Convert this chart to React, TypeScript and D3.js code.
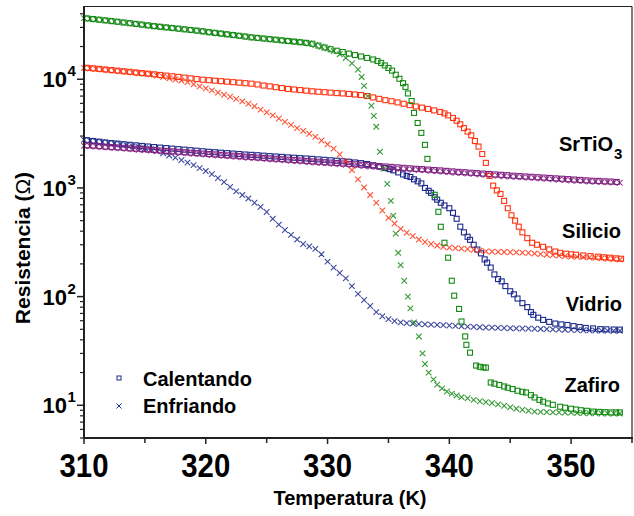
import React from 'react';
import * as d3 from 'd3';

// [Temperatura (K), Resistencia (Ω)]
const zafiroEnfriando: [number, number][] = [
  [310, 36500], [310.5, 36000], [311, 35500], [311.5, 35000], [312, 34500], [312.5, 34000], [313, 33500], [313.5, 33000],
  [314, 32500], [314.5, 32000], [315, 31500], [315.5, 31000], [316, 30600], [316.5, 30200], [317, 29800], [317.5, 29400],
  [318, 29000], [318.5, 28600], [319, 28200], [319.5, 27800], [320, 27300], [320.5, 26900], [321, 26500], [321.5, 26100],
  [322, 25700], [322.5, 25300], [323, 24900], [323.5, 24500], [324, 24100], [324.5, 23800], [325, 23500], [325.5, 23200],
  [326, 22900], [326.5, 22600], [327, 22300], [327.5, 22100], [328, 21800], [328.5, 21300], [329, 20600], [329.5, 19900],
  [330, 19200], [330.5, 18200], [331, 17000], [331.5, 15700], [332, 14000], [332.5, 12300], [332.8, 10500], [333, 8700],
  [333.3, 7000], [333.6, 5700], [333.8, 4600], [334, 3650], [334.3, 2150], [334.6, 1500], [334.9, 1090], [335.2, 760],
  [335.4, 555], [335.6, 380], [335.8, 253], [336, 195], [336.3, 140], [336.6, 100], [336.8, 78], [337.1, 58],
  [337.5, 43], [337.8, 30], [338, 24], [338.3, 20], [338.7, 17.3], [339, 15.5], [339.4, 14.3], [339.8, 13.4],
  [340.2, 12.8], [340.6, 12.3], [341, 11.9], [341.5, 11.6], [342, 11.2], [342.5, 10.9], [343, 10.7], [343.5, 10.5],
  [344, 10.2], [344.5, 9.9], [345, 9.6], [345.5, 9.3], [346, 9.1], [346.5, 8.9], [347, 8.75], [347.5, 8.7],
  [348, 8.65], [348.5, 8.6], [349, 8.6], [349.5, 8.55], [350, 8.55], [350.5, 8.5], [351, 8.5], [351.5, 8.45],
  [352, 8.45], [352.5, 8.4], [353, 8.4], [353.5, 8.4], [354, 8.4],
];

const zafiroCalentando: [number, number][] = [
  [310.25, 36300], [310.75, 35800], [311.25, 35300], [311.75, 34800], [312.25, 34300], [312.75, 33800], [313.25, 33300],
  [313.75, 32800], [314.25, 32300], [314.75, 31800], [315.25, 31300], [315.75, 30800], [316.25, 30400], [316.75, 30000],
  [317.25, 29600], [317.75, 29200], [318.25, 28800], [318.75, 28400], [319.25, 28000], [319.75, 27600], [320.25, 27100],
  [320.75, 26700], [321.25, 26300], [321.75, 25900], [322.25, 25500], [322.75, 25100], [323.25, 24700], [323.75, 24300],
  [324.25, 24000], [324.75, 23700], [325.25, 23400], [325.75, 23100], [326.25, 22800], [326.75, 22500], [327.25, 22200],
  [327.75, 21900], [328.25, 21600], [328.75, 21200], [329.25, 20400], [329.75, 19600], [330.25, 18900], [330.75, 18300],
  [331.25, 17800], [331.75, 17200], [332.25, 16700], [332.75, 16200], [333.25, 15700], [333.75, 15200], [334.1, 14700],
  [334.4, 14100], [334.7, 13400], [335, 12700], [335.3, 12000], [335.6, 11000], [335.9, 10100], [336.2, 9200],
  [336.4, 8500], [336.6, 7400], [336.9, 6300], [337.1, 4900], [337.4, 3960], [337.7, 3210], [338, 2490], [338.2, 1850],
  [338.8, 865], [339.1, 603], [339.3, 439], [339.6, 313], [339.9, 228], [340.2, 140], [340.4, 102], [340.8, 77],
  [341, 59], [341.3, 43], [341.4, 36], [341.7, 30.5], [342.2, 23.2], [342.5, 22.6], [342.8, 22.3], [343, 22.2],
  [343.4, 16.2], [343.7, 15.8], [344.1, 15.4], [344.5, 14.9], [344.8, 14.5], [345.2, 14.1], [345.6, 13.6], [346, 13.3],
  [346.3, 13.1], [346.7, 12.4], [347, 11.8], [347.4, 11.2], [347.7, 10.8], [348.1, 10.4], [348.5, 10.1], [349.1, 9.7],
  [349.5, 9.5], [350, 9.3], [350.4, 9.14], [350.8, 9.0], [351.3, 8.9], [351.8, 8.75], [352.3, 8.7], [352.8, 8.65],
  [353.3, 8.6], [353.7, 8.6], [354, 8.6],
];

const silicioEnfriando: [number, number][] = [
  [310, 12700], [310.5, 12550], [311, 12400], [311.5, 12250], [312, 12100], [312.5, 11950], [313, 11800], [313.5, 11650],
  [314, 11500], [314.5, 11350], [315, 11250], [315.5, 11100], [316, 10800], [316.5, 10500], [317, 10200], [317.5, 9950],
  [318, 9700], [318.5, 9400], [319, 9000], [319.5, 8600], [320, 8250], [320.5, 7900], [321, 7550], [321.5, 7200],
  [322, 6900], [322.5, 6600], [323, 6250], [323.5, 5950], [324, 5650], [324.5, 5250], [325, 4950], [325.5, 4650],
  [326, 4350], [326.5, 4050], [327, 3800], [327.5, 3550], [328, 3350], [328.5, 3150], [329, 2950], [329.5, 2730],
  [330, 2520], [330.5, 2300], [331, 2030], [331.5, 1760], [332, 1460], [332.5, 1200], [333, 1010], [333.5, 860],
  [334, 730], [334.5, 620], [335, 530], [335.5, 470], [336, 420], [336.5, 387], [337, 360], [337.5, 335],
  [338, 318], [338.5, 305], [339, 295], [339.5, 287], [340, 282], [340.5, 279], [341, 276], [341.5, 274],
  [342, 270], [342.5, 265], [343, 261], [343.5, 259], [344, 258], [344.5, 257], [345, 256], [345.5, 255],
  [346, 254], [346.5, 252], [347, 249], [347.5, 246], [348, 243], [348.5, 241], [349, 238], [349.5, 236],
  [350, 234], [350.5, 232], [351, 231], [351.5, 229], [352, 227], [352.5, 225], [353, 223], [353.5, 221], [354, 219],
];

const silicioCalentando: [number, number][] = [
  [310.25, 12750], [310.75, 12600], [311.25, 12450], [311.75, 12300], [312.25, 12150], [312.75, 12000], [313.25, 11850],
  [313.75, 11700], [314.25, 11550], [314.75, 11400], [315.25, 11250], [315.75, 11100], [316.25, 10950], [316.75, 10800],
  [317.25, 10650], [317.75, 10500], [318.25, 10350], [318.75, 10200], [319.25, 10050], [319.75, 9900], [320.25, 9800],
  [320.75, 9700], [321.25, 9600], [321.75, 9500], [322.25, 9400], [322.75, 9300], [323.25, 9200], [323.75, 9100],
  [324.25, 8950], [324.75, 8750], [325.25, 8600], [325.75, 8450], [326.25, 8300], [326.75, 8150], [327.25, 8050],
  [327.75, 7950], [328.25, 7850], [328.75, 7750], [329.25, 7670], [329.75, 7600], [330.25, 7530], [330.75, 7460],
  [331.25, 7400], [331.75, 7320], [332.25, 7240], [332.75, 7150], [333.25, 7000], [333.75, 6800], [334.25, 6600],
  [334.75, 6420], [335.25, 6280], [335.75, 6120], [336.25, 5950], [336.75, 5780], [337.25, 5620], [337.75, 5480],
  [338.25, 5330], [338.75, 5170], [339.25, 5000], [339.6, 4850], [339.9, 4650], [340.3, 4400], [340.6, 4150],
  [340.9, 3850], [341.2, 3550], [341.5, 3300], [341.8, 3050], [342.1, 2700], [342.4, 2400], [342.7, 2050], [343, 1700],
  [343.3, 1290], [343.6, 1050], [343.9, 950], [344.2, 880], [344.5, 760], [344.8, 650], [345.1, 560], [345.4, 500],
  [345.7, 440], [346, 390], [346.4, 345], [346.8, 313], [347.2, 300], [347.7, 287], [348.2, 272], [348.7, 260],
  [349.1, 253], [349.6, 248], [350, 245], [350.4, 243], [351, 239], [351.6, 236], [352.2, 233], [352.7, 230],
  [353.2, 228], [353.7, 225], [354.1, 223],
];

const vidrioEnfriando: [number, number][] = [
  [310, 2770], [310.5, 2720], [311, 2680], [311.5, 2640], [312, 2600], [312.5, 2560], [313, 2510], [313.5, 2460],
  [314, 2410], [314.5, 2370], [315, 2320], [315.5, 2270], [316, 2180], [316.5, 2080], [317, 1990], [317.5, 1900],
  [318, 1800], [318.5, 1710], [319, 1620], [319.5, 1520], [320, 1430], [320.5, 1340], [321, 1230], [321.5, 1130],
  [322, 1020], [322.5, 930], [323, 860], [323.5, 800], [324, 730], [324.5, 670], [325, 600], [325.5, 520],
  [326, 460], [326.5, 410], [327, 370], [327.5, 335], [328, 305], [328.5, 290], [329, 275], [329.5, 245],
  [330, 210], [330.5, 185], [331, 165], [331.5, 147], [332, 125], [332.5, 106], [333, 93], [333.5, 82],
  [334, 72], [334.5, 66], [335, 62], [335.5, 59.5], [336, 58], [336.5, 57], [337, 56.5], [337.5, 56],
  [338, 55.5], [338.5, 55.2], [339, 55], [339.5, 54.6], [340, 54.2], [340.5, 53.8], [341, 53.3], [341.5, 52.9],
  [342, 52.6], [342.5, 52.3], [343, 52], [343.5, 51.8], [344, 51.6], [344.5, 51.4], [345, 51.2], [345.5, 51],
  [346, 50.9], [346.5, 50.8], [347, 50.6], [347.5, 50.4], [348, 50.2], [348.5, 50], [349, 49.8], [349.5, 49.6],
  [350, 49.4], [350.5, 49.2], [351, 49], [351.5, 48.9], [352, 48.7], [352.5, 48.6], [353, 48.6], [353.5, 48.5], [354, 48.5],
];

const vidrioCalentando: [number, number][] = [
  [310.25, 2750], [310.75, 2700], [311.25, 2660], [311.75, 2620], [312.25, 2585], [312.75, 2555], [313.25, 2525],
  [313.75, 2495], [314.25, 2465], [314.75, 2435], [315.25, 2405], [315.75, 2375], [316.25, 2350], [316.75, 2325],
  [317.25, 2300], [317.75, 2275], [318.25, 2250], [318.75, 2225], [319.25, 2200], [319.75, 2175], [320.25, 2150],
  [320.75, 2130], [321.25, 2110], [321.75, 2090], [322.25, 2070], [322.75, 2050], [323.25, 2030], [323.75, 2015],
  [324.25, 2000], [324.75, 1980], [325.25, 1960], [325.75, 1945], [326.25, 1930], [326.75, 1910], [327.25, 1895],
  [327.75, 1880], [328.25, 1865], [328.75, 1850], [329.25, 1830], [329.75, 1815], [330.25, 1795], [330.75, 1780],
  [331.25, 1760], [331.75, 1740], [332.25, 1715], [332.75, 1690], [333.25, 1660], [333.75, 1615], [334.25, 1570],
  [334.75, 1525], [335.1, 1490], [335.4, 1450], [335.8, 1390], [336.2, 1330], [336.5, 1290], [336.8, 1260],
  [337.1, 1200], [337.4, 1150], [337.7, 1100], [338, 1000], [338.3, 940], [338.5, 900], [338.8, 820], [339, 780],
  [339.3, 730], [339.6, 690], [340, 650], [340.3, 590], [340.6, 520], [340.9, 440], [341.2, 390], [341.5, 355],
  [341.7, 333], [342, 300], [342.3, 271], [342.6, 250], [342.9, 220], [343.1, 205], [343.4, 185], [343.7, 160],
  [344, 145], [344.3, 138], [344.6, 125], [345, 112], [345.3, 105], [345.6, 96], [346, 87], [346.4, 80],
  [346.7, 72], [346.9, 68], [347.3, 64], [347.7, 61], [348.2, 58.5], [348.7, 56.5], [349.2, 55.5], [349.7, 54.8],
  [350.2, 53.5], [350.7, 52.5], [351.2, 51.5], [351.8, 51], [352.4, 50.2], [352.9, 50], [353.5, 49.8], [354, 49.7],
];

const srtioEnfriando: [number, number][] = [
  [310, 2440], [310.5, 2420], [311, 2400], [311.5, 2375], [312, 2350], [312.5, 2330], [313, 2310], [313.5, 2290],
  [314, 2265], [314.5, 2245], [315, 2225], [315.5, 2205], [316, 2185], [316.5, 2160], [317, 2140], [317.5, 2120],
  [318, 2100], [318.5, 2085], [319, 2065], [319.5, 2045], [320, 2025], [320.5, 2005], [321, 1990], [321.5, 1970],
  [322, 1950], [322.5, 1935], [323, 1915], [323.5, 1895], [324, 1880], [324.5, 1860], [325, 1845], [325.5, 1825],
  [326, 1810], [326.5, 1795], [327, 1775], [327.5, 1760], [328, 1745], [328.5, 1725], [329, 1710], [329.5, 1695],
  [330, 1680], [330.5, 1665], [331, 1650], [331.5, 1635], [332, 1620], [332.5, 1605], [333, 1590], [333.5, 1575],
  [334, 1560], [334.5, 1545], [335, 1530], [335.5, 1515], [336, 1500], [336.5, 1490], [337, 1475], [337.5, 1460],
  [338, 1450], [338.5, 1435], [339, 1420], [339.5, 1410], [340, 1395], [340.5, 1380], [341, 1370], [341.5, 1355],
  [342, 1345], [342.5, 1330], [343, 1320], [343.5, 1305], [344, 1290], [344.5, 1280], [345, 1270], [345.5, 1260],
  [346, 1250], [346.5, 1240], [347, 1230], [347.5, 1220], [348, 1210], [348.5, 1200], [349, 1190], [349.5, 1180],
  [350, 1170], [350.5, 1160], [351, 1155], [351.5, 1145], [352, 1140], [352.5, 1130], [353, 1125], [353.5, 1120], [354, 1115],
];

const srtioCalentando: [number, number][] = [
  [310.25, 2470], [310.75, 2450], [311.25, 2425], [311.75, 2400], [312.25, 2380], [312.75, 2360], [313.25, 2340],
  [313.75, 2315], [314.25, 2295], [314.75, 2275], [315.25, 2255], [315.75, 2235], [316.25, 2210], [316.75, 2190],
  [317.25, 2170], [317.75, 2150], [318.25, 2130], [318.75, 2110], [319.25, 2090], [319.75, 2070], [320.25, 2050],
  [320.75, 2035], [321.25, 2015], [321.75, 1995], [322.25, 1980], [322.75, 1960], [323.25, 1940], [323.75, 1925],
  [324.25, 1905], [324.75, 1890], [325.25, 1870], [325.75, 1855], [326.25, 1840], [326.75, 1820], [327.25, 1805],
  [327.75, 1790], [328.25, 1770], [328.75, 1755], [329.25, 1740], [329.75, 1725], [330.25, 1710], [330.75, 1695],
  [331.25, 1680], [331.75, 1665], [332.25, 1650], [332.75, 1635], [333.25, 1620], [333.75, 1605], [334.25, 1590],
  [334.75, 1575], [335.25, 1560], [335.75, 1545], [336.25, 1530], [336.75, 1515], [337.25, 1500], [337.75, 1490],
  [338.25, 1475], [338.75, 1460], [339.25, 1450], [339.75, 1435], [340.25, 1420], [340.75, 1405], [341.25, 1395],
  [341.75, 1380], [342.25, 1370], [342.75, 1355], [343.25, 1345], [343.75, 1330], [344.25, 1320], [344.75, 1310],
  [345.25, 1295], [345.75, 1285], [346.25, 1275], [346.75, 1265], [347.25, 1255], [347.75, 1245], [348.25, 1235],
  [348.75, 1225], [349.25, 1215], [349.75, 1205], [350.25, 1195], [350.75, 1185], [351.25, 1175], [351.75, 1165],
  [352.25, 1160], [352.75, 1150], [353.25, 1145], [353.75, 1135],
];

const xMajor = [310, 320, 330, 340, 350];
const xMinor = [315, 325, 335, 345, 355];
const yMajorExp = [1, 2, 3, 4];

const FONT = '"Liberation Sans", Arial, sans-serif';
const C = { verde: '#148a14', rojo: '#ff3311', azul: '#1c2a8c', morado: '#802080' };

const x = d3.scaleLinear().domain([310, 355]).range([84, 632]);
const y = d3.scaleLog().domain([5, 46700]).range([438, 6.5]);

const Squares = ({ data, color }: { data: [number, number][]; color: string }) => (
  <g fill="none" stroke={color} strokeWidth={1.1}>
    {data.map(([t, r], i) => (
      <rect key={i} x={x(t) - 2.5} y={y(r) - 2.5} width={5} height={5} />
    ))}
  </g>
);

const Crosses = ({ data, color }: { data: [number, number][]; color: string }) => (
  <g fill="none" stroke={color} strokeWidth={1.1} strokeOpacity={0.85}>
    {data.map(([t, r], i) => {
      const cx = x(t), cy = y(r);
      return <path key={i} d={`M${cx - 2.8},${cy - 2.8}L${cx + 2.8},${cy + 2.8}M${cx - 2.8},${cy + 2.8}L${cx + 2.8},${cy - 2.8}`} />;
    })}
  </g>
);

export default function App() {
  const yMinor: number[] = [];
  for (let e = 0; e <= 4; e++) {
    for (let m = 2; m <= 9; m++) {
      const v = m * Math.pow(10, e);
      if (v >= 5 && v <= 46700) yMinor.push(v);
    }
  }
  return (
    <svg width={634} height={516} style={{ position: 'absolute', left: 0, top: 0, background: '#fff' }} fontFamily={FONT}>
      <rect width={634} height={516} fill="#fff" />

      <Crosses data={vidrioEnfriando} color={C.azul} />
      <Squares data={vidrioCalentando} color={C.azul} />
      <Crosses data={srtioEnfriando} color={C.morado} />
      <Squares data={srtioCalentando} color={C.morado} />
      <Crosses data={silicioEnfriando} color={C.rojo} />
      <Squares data={silicioCalentando} color={C.rojo} />
      <Crosses data={zafiroEnfriando} color={C.verde} />
      <Squares data={zafiroCalentando} color={C.verde} />

      {/* marco */}
      <line x1={84} x2={632} y1={6.5} y2={6.5} stroke="#222" strokeWidth={1.2} />
      <line x1={632} x2={632} y1={6.5} y2={438} stroke="#222" strokeWidth={1.2} />
      <line x1={84} x2={84} y1={6} y2={439} stroke="#222" strokeWidth={2} />
      <line x1={83} x2={633} y1={438} y2={438} stroke="#222" strokeWidth={2} />

      {/* eje x */}
      {xMajor.map(t => (
        <g key={t}>
          <line x1={x(t)} x2={x(t)} y1={438} y2={444} stroke="#222" strokeWidth={1.5} />
          <text x={x(t)} y={477} textAnchor="middle" fontSize={33} fontWeight="bold" textLength={49} lengthAdjust="spacingAndGlyphs">{t}</text>
        </g>
      ))}
      {xMinor.map(t => (
        <line key={t} x1={x(t)} x2={x(t)} y1={438} y2={443} stroke="#222" strokeWidth={1.5} />
      ))}
      <text x={350} y={505} textAnchor="middle" fontSize={20} fontWeight="bold">Temperatura (K)</text>

      {/* eje y */}
      {yMajorExp.map(e => {
        const py = y(Math.pow(10, e));
        return (
          <g key={e}>
            <line x1={77} x2={84} y1={py} y2={py} stroke="#222" strokeWidth={1.5} />
            <text x={67} y={py + 8} textAnchor="end" fontSize={22} fontWeight="bold">10</text>
            <text x={67.5} y={py - 3} fontSize={15} fontWeight="bold">{e}</text>
          </g>
        );
      })}
      {yMinor.map(v => (
        <line key={v} x1={80} x2={84} y1={y(v)} y2={y(v)} stroke="#222" strokeWidth={1.2} />
      ))}
      <text transform="translate(30,248) rotate(-90)" textAnchor="middle" fontSize={21} fontWeight="bold">
        Resistencia (<tspan fontWeight="normal">Ω</tspan>)
      </text>

      {/* etiquetas de muestras */}
      <text x={613} y={151} textAnchor="end" fontSize={20} fontWeight="bold">SrTiO</text>
      <text x={614} y={159} fontSize={15} fontWeight="bold">3</text>
      <text x={621} y={238} textAnchor="end" fontSize={20} fontWeight="bold">Silicio</text>
      <text x={622} y={311} textAnchor="end" fontSize={20} fontWeight="bold">Vidrio</text>
      <text x={620} y={392} textAnchor="end" fontSize={20} fontWeight="bold">Zafiro</text>

      {/* leyenda */}
      <rect x={117} y={376} width={4} height={4} fill="none" stroke={C.azul} strokeWidth={1} />
      <path d="M116.5,403.5L121.5,408.5M116.5,408.5L121.5,403.5" stroke={C.azul} strokeWidth={1} fill="none" />
      <text x={143} y={386} fontSize={20} fontWeight="bold">Calentando</text>
      <text x={143} y={413} fontSize={20} fontWeight="bold">Enfriando</text>
    </svg>
  );
}
